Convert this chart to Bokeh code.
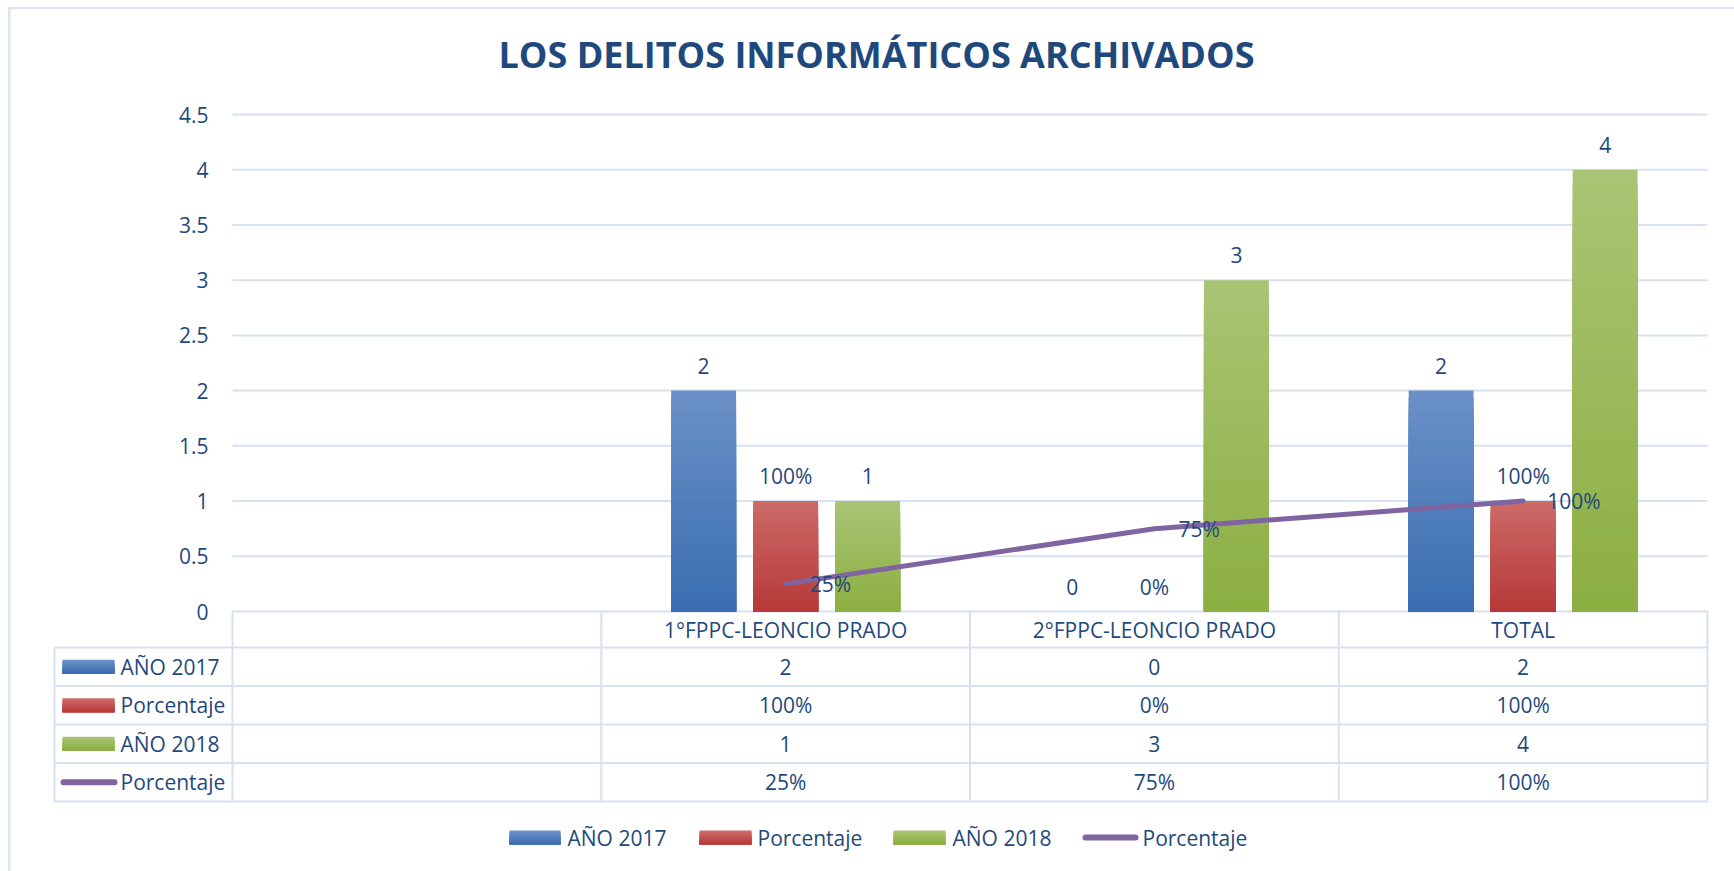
from bokeh.plotting import figure
from bokeh.models import Range1d, FixedTicker, CustomJSTickFormatter, ColumnDataSource
from bokeh.embed import file_html
from bokeh.resources import INLINE
from bokeh.core.properties import value

# ---------------- data ----------------
TITLE = "LOS DELITOS INFORMÁTICOS ARCHIVADOS"
BLANK = ""
CATEGORIES = ["1°FPPC-LEONCIO PRADO", "2°FPPC-LEONCIO PRADO", "TOTAL"]
ANO_2017 = [2, 0, 2]
PORC_2017 = [1.00, 0.00, 1.00]
ANO_2018 = [1, 3, 4]
PORC_2018 = [0.25, 0.75, 1.00]
SERIES_NAMES = ["AÑO 2017", "Porcentaje", "AÑO 2018", "Porcentaje"]
Y_TICKS = [0, 0.5, 1, 1.5, 2, 2.5, 3, 3.5, 4, 4.5]

# ---------------- style / layout ----------------
FONT = "Open Sans"
TEXT = "#1F497D"
GRID = "#D7E2F1"
BORDER = "#DAE3F0"
PURPLE = "#8064A2"
BLUE = ((106, 144, 199), (58, 110, 176))
RED = ((204, 106, 104), (183, 58, 56))
GREEN = ((169, 196, 116), (140, 175, 66))
FS = "21px"

W, H = 1734, 871
PLOT_LEFT, PLOT_RIGHT = 232, 1707     # canvas px
TOP_Y, BASE_Y = 114, 611               # px of 4.5 and of 0
TABLE_LEFT = 54
HEAD_BOTTOM, ROW_H = 647, 38.5
BAR_W, BAR_OFF = 0.176, 0.2224
N_GRAD = 30

ALL_CATS = [BLANK] + CATEGORIES
NCAT = len(ALL_CATS)
COLW = (PLOT_RIGHT - PLOT_LEFT) / NCAT
UNIT = (BASE_Y - TOP_Y) / Y_TICKS[-1]


def mix(a, b, t):
    return "#%02x%02x%02x" % tuple(int(round(a[i] + (b[i] - a[i]) * t)) for i in range(3))


def fmt_pct(v):
    return "%d%%" % round(v * 100)


cat_x = [ALL_CATS.index(c) + 0.5 for c in CATEGORIES]   # category centres (category units)

p = figure(width=W, height=H,
           x_range=Range1d(-PLOT_LEFT / COLW, (W - PLOT_LEFT) / COLW),
           y_range=Range1d(-(H - BASE_Y) / UNIT, Y_TICKS[-1] + TOP_Y / UNIT),
           x_axis_location=None, output_backend="svg", toolbar_location=None,
           min_border=0, min_border_left=0, min_border_top=0,
           title=TITLE, outline_line_color=None)
p.extra_x_ranges = {"px": Range1d(0, W)}
p.extra_y_ranges = {"px": Range1d(H, 0)}
p.grid.visible = False

p.title.text_font = FONT
p.title.text_font_size = "36px"
p.title.text_font_style = "bold"
p.title.text_color = TEXT
p.title.align = "left"
p.title.offset = 498
p.title.standoff = -156

ax = p.yaxis[0]
ax.ticker = FixedTicker(ticks=Y_TICKS)
ax.formatter = CustomJSTickFormatter(code="return tick.toString()")
ax.axis_line_color = None
ax.major_tick_line_color = None
ax.minor_tick_line_color = None
ax.major_tick_out = 0
ax.major_tick_in = 0
ax.major_label_standoff = -208
ax.major_label_text_font = FONT
ax.major_label_text_font_size = FS
ax.major_label_text_color = TEXT

# outer chart border
p.segment(x0=[8.7, 8], y0=[7.5, 7.5], x1=[8.7, W], y1=[H, 7.5], line_color=BORDER,
          line_width=2.5, x_range_name="px", y_range_name="px")

# horizontal gridlines over the category area
p.segment(x0=[0] * len(Y_TICKS), x1=[NCAT] * len(Y_TICKS), y0=Y_TICKS, y1=Y_TICKS,
          line_color=GRID, line_width=2)

bar_series = [
    (ANO_2017, [str(v) for v in ANO_2017], -BAR_OFF, BLUE),
    (PORC_2017, [fmt_pct(v) for v in PORC_2017], 0.0, RED),
    (ANO_2018, [str(v) for v in ANO_2018], BAR_OFF, GREEN),
]

for vals, labels, off, (ctop, cbot) in bar_series:
    xs, tops, cols = [], [], []
    for k in range(N_GRAD):
        f = 1 - k / N_GRAD
        c = mix(ctop, cbot, k / (N_GRAD - 1))
        for x, v in zip(cat_x, vals):
            xs.append(x + off)
            tops.append(v * f)
            cols.append(c)
    src = ColumnDataSource(dict(x=xs, top=tops, color=cols))
    p.vbar(x="x", top="top", bottom=0, width=BAR_W, source=src,
           fill_color="color", line_color=None)

p.line(x=cat_x, y=PORC_2018, line_width=5, line_color=PURPLE,
       line_cap="round", line_join="round")

for vals, labels, off, _ in bar_series:
    p.text(x=[x + off for x in cat_x], y=vals, text=labels,
           text_font=value(FONT), text_font_size=FS, text_color=TEXT,
           text_align="center", text_baseline="middle", y_offset=-25)

p.text(x=cat_x, y=PORC_2018, text=[fmt_pct(v) for v in PORC_2018],
       text_font=value(FONT), text_font_size=FS, text_color=TEXT,
       text_align="left", text_baseline="middle", x_offset=24)

# ---------------- data table ----------------
row_edges = [HEAD_BOTTOM + i * ROW_H for i in range(len(SERIES_NAMES) + 1)]
row_centers = [(row_edges[i] + row_edges[i + 1]) / 2 for i in range(len(SERIES_NAMES))]
table_bottom = row_edges[-1]

hx0 = [TABLE_LEFT] * len(row_edges) + [TABLE_LEFT]
hx1 = [PLOT_RIGHT] * len(row_edges) + [TABLE_LEFT]
hy0 = row_edges + [HEAD_BOTTOM]
hy1 = row_edges + [table_bottom]
p.segment(x0=hx0, y0=hy0, x1=hx1, y1=hy1, line_color=GRID, line_width=2,
          x_range_name="px", y_range_name="px")
p.segment(x0=list(range(NCAT + 1)), x1=list(range(NCAT + 1)),
          y0=[BASE_Y] * (NCAT + 1), y1=[table_bottom] * (NCAT + 1),
          line_color=GRID, line_width=2, y_range_name="px")

p.text(x=cat_x, y=[(BASE_Y + HEAD_BOTTOM) / 2] * len(CATEGORIES), text=CATEGORIES,
       text_font=value(FONT), text_font_size=FS, text_color=TEXT,
       text_align="center", text_baseline="middle", y_range_name="px")

rows = [[str(v) for v in ANO_2017], [fmt_pct(v) for v in PORC_2017],
        [str(v) for v in ANO_2018], [fmt_pct(v) for v in PORC_2018]]
cx, cy, ct = [], [], []
for r, vals in enumerate(rows):
    for c, s in enumerate(vals):
        cx.append(cat_x[c]); cy.append(row_centers[r]); ct.append(s)
p.text(x=cx, y=cy, text=ct, text_font=value(FONT), text_font_size=FS, text_color=TEXT,
       text_align="center", text_baseline="middle", y_range_name="px")


def grad_key(x0, x1, yc, colors, h=14, n=7):
    ctop, cbot = colors
    L, R, T, B, C = [], [], [], [], []
    for k in range(n):
        L.append(x0); R.append(x1)
        T.append(yc - h / 2 + k * h / n); B.append(yc + h / 2)
        C.append(mix(ctop, cbot, k / (n - 1)))
    p.quad(left=L, right=R, top=T, bottom=B, fill_color=C, line_color=None,
           x_range_name="px", y_range_name="px")


key_colors = [BLUE, RED, GREEN]
for r in range(3):
    grad_key(62, 114, row_centers[r], key_colors[r])
p.segment(x0=[63], y0=[row_centers[3]], x1=[114], y1=[row_centers[3]],
          line_color=PURPLE, line_width=6, line_cap="round",
          x_range_name="px", y_range_name="px")
p.text(x=[120] * 4, y=row_centers, text=SERIES_NAMES, text_font=value(FONT),
       text_font_size=FS, text_color=TEXT, text_align="left", text_baseline="middle",
       x_range_name="px", y_range_name="px")

# ---------------- legend ----------------
LEG_Y = 837
leg_keys = [(509, 560), (699, 751), (893, 945)]
for (a, b), cols in zip(leg_keys, key_colors):
    grad_key(a, b, LEG_Y, cols)
p.segment(x0=[1085], y0=[LEG_Y], x1=[1135], y1=[LEG_Y], line_color=PURPLE,
          line_width=6, line_cap="round", x_range_name="px", y_range_name="px")
p.text(x=[567, 757, 952, 1142], y=[LEG_Y] * 4, text=SERIES_NAMES, text_font=value(FONT),
       text_font_size=FS, text_color=TEXT, text_align="left", text_baseline="middle",
       x_range_name="px", y_range_name="px")

open("out.html", "w").write(file_html(p, INLINE))
